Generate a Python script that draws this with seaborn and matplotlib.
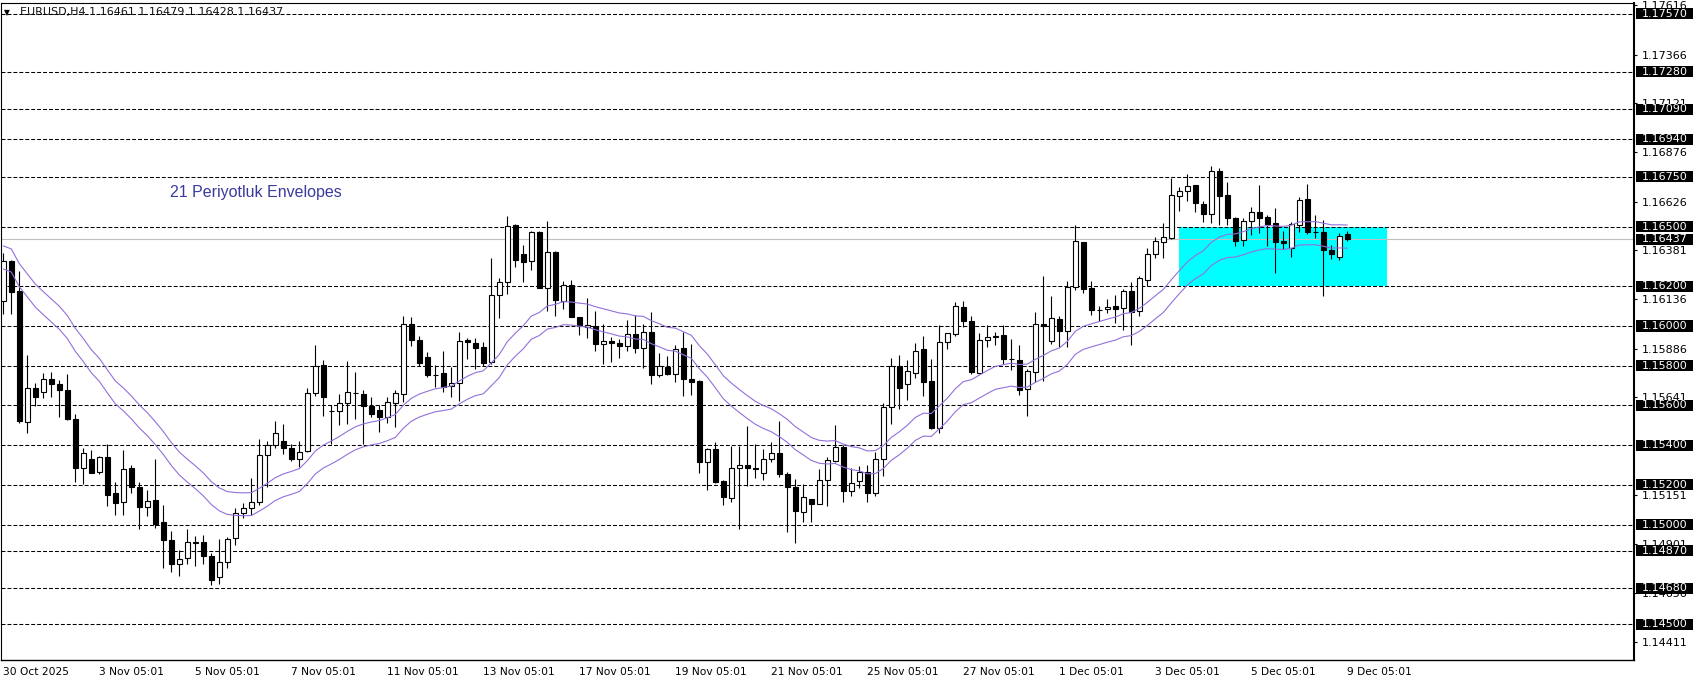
"""
EURUSD H4 candlestick chart with a 21-period envelope, horizontal
levels and a highlighted zone (MT4 style screenshot recreation).
"""

import numpy as np
import pandas as pd
import matplotlib
matplotlib.use("Agg")
import matplotlib.pyplot as plt
import matplotlib.transforms as mtransforms
from matplotlib.patches import Rectangle
import seaborn as sns


TITLE = "EURUSD,H4 1.16461 1.16479 1.16428 1.16437"
NOTE = "21 Periyotluk Envelopes"

# OHLC per H4 bar (bar 0 = 30 Oct 2025)
opens = [
    1.16128, 1.16325, 1.16175, 1.15518, 1.15688, 1.15667, 1.15733, 1.15708, 1.15678, 1.15533,
    1.15287, 1.15333, 1.15263, 1.15342, 1.15158, 1.15113, 1.15283, 1.15188, 1.15088, 1.15125,
    1.15013, 1.14925, 1.14800, 1.14833, 1.14913, 1.14913, 1.14845, 1.14737, 1.14810, 1.14932,
    1.15058, 1.15083, 1.15113, 1.15350, 1.15400, 1.15422, 1.15388, 1.15333, 1.15372, 1.15663,
    1.15803, 1.15573, 1.15570, 1.15612, 1.15662, 1.15658, 1.15595, 1.15578, 1.15542, 1.15613,
    1.15658, 1.16008, 1.15928, 1.15845, 1.15755, 1.15763, 1.15698, 1.15713, 1.15930, 1.15915,
    1.15892, 1.15818, 1.16155, 1.16220, 1.16507, 1.16360, 1.16325, 1.16472, 1.16193, 1.16372,
    1.16127, 1.16205, 1.16047, 1.15993, 1.15998, 1.15908, 1.15927, 1.15912, 1.15898, 1.15960,
    1.15888, 1.15972, 1.15753, 1.15792, 1.15758, 1.15887, 1.15735, 1.15722, 1.15318, 1.15380,
    1.15218, 1.15133, 1.15285, 1.15300, 1.15285, 1.15260, 1.15330, 1.15360, 1.15257, 1.15190,
    1.15065, 1.15127, 1.15105, 1.15225, 1.15323, 1.15390, 1.15172, 1.15220, 1.15267, 1.15160,
    1.15330, 1.15590, 1.15800, 1.15710, 1.15765, 1.15882, 1.15722, 1.15488, 1.15918, 1.15960,
    1.16097, 1.16027, 1.15763, 1.15930, 1.15947, 1.15957, 1.15833, 1.15827, 1.15683, 1.15767,
    1.16012, 1.15923, 1.16037, 1.15973, 1.16197, 1.16422, 1.16192, 1.16078, 1.16085, 1.16102,
    1.16090, 1.16175, 1.16075, 1.16230, 1.16363, 1.16423, 1.16443, 1.16655, 1.16680, 1.16707,
    1.16615, 1.16565, 1.16780, 1.16657, 1.16543, 1.16435, 1.16530, 1.16572, 1.16547, 1.16517,
    1.16427, 1.16393, 1.16510, 1.16640, 1.16475, 1.16475, 1.16382, 1.16348, 1.16461,
]
highs = [
    1.16367, 1.16330, 1.16275, 1.15855, 1.15713, 1.15763, 1.15770, 1.15730, 1.15758, 1.15558,
    1.15388, 1.15375, 1.15345, 1.15408, 1.15213, 1.15375, 1.15303, 1.15213, 1.15175, 1.15333,
    1.15098, 1.14967, 1.14875, 1.14978, 1.14942, 1.14950, 1.14860, 1.14928, 1.14940, 1.15083,
    1.15108, 1.15233, 1.15433, 1.15422, 1.15520, 1.15508, 1.15408, 1.15420, 1.15688, 1.15905,
    1.15828, 1.15600, 1.15658, 1.15825, 1.15770, 1.15680, 1.15645, 1.15600, 1.15645, 1.15680,
    1.16050, 1.16045, 1.15950, 1.15870, 1.15805, 1.15875, 1.15795, 1.15972, 1.15940, 1.15940,
    1.15922, 1.16343, 1.16240, 1.16552, 1.16513, 1.16407, 1.16477, 1.16477, 1.16527, 1.16377,
    1.16227, 1.16232, 1.16047, 1.16140, 1.16077, 1.16010, 1.15947, 1.15935, 1.16030, 1.16055,
    1.16010, 1.16072, 1.15865, 1.15847, 1.15902, 1.15968, 1.15907, 1.15727, 1.15385, 1.15415,
    1.15223, 1.15397, 1.15397, 1.15497, 1.15407, 1.15380, 1.15415, 1.15522, 1.15265, 1.15232,
    1.15205, 1.15127, 1.15282, 1.15343, 1.15502, 1.15402, 1.15285, 1.15297, 1.15302, 1.15365,
    1.15615, 1.15838, 1.15852, 1.15830, 1.15913, 1.15952, 1.15832, 1.16005, 1.15965, 1.16123,
    1.16127, 1.16048, 1.15963, 1.16007, 1.15968, 1.16007, 1.15935, 1.15902, 1.15783, 1.16072,
    1.16252, 1.16152, 1.16052, 1.16227, 1.16507, 1.16422, 1.16227, 1.16102, 1.16138, 1.16157,
    1.16188, 1.16222, 1.16252, 1.16390, 1.16447, 1.16518, 1.16743, 1.16697, 1.16765, 1.16707,
    1.16630, 1.16807, 1.16797, 1.16723, 1.16547, 1.16543, 1.16597, 1.16707, 1.16557, 1.16593,
    1.16477, 1.16522, 1.16648, 1.16713, 1.16560, 1.16535, 1.16410, 1.16468, 1.16479,
]
lows = [
    1.16058, 1.16058, 1.15512, 1.15463, 1.15597, 1.15637, 1.15642, 1.15542, 1.15525, 1.15217,
    1.15205, 1.15258, 1.15255, 1.15092, 1.15047, 1.15047, 1.15158, 1.14978, 1.15042, 1.14986,
    1.14780, 1.14760, 1.14740, 1.14800, 1.14790, 1.14800, 1.14697, 1.14700, 1.14780, 1.14900,
    1.15033, 1.15050, 1.15100, 1.15188, 1.15388, 1.15358, 1.15322, 1.15292, 1.15367, 1.15647,
    1.15547, 1.15405, 1.15503, 1.15505, 1.15530, 1.15405, 1.15542, 1.15467, 1.15512, 1.15492,
    1.15617, 1.15900, 1.15800, 1.15745, 1.15692, 1.15667, 1.15642, 1.15622, 1.15832, 1.15785,
    1.15798, 1.15810, 1.16038, 1.16160, 1.16298, 1.16223, 1.16282, 1.16193, 1.16077, 1.16052,
    1.16088, 1.16043, 1.15955, 1.15940, 1.15873, 1.15807, 1.15817, 1.15838, 1.15873, 1.15863,
    1.15788, 1.15710, 1.15743, 1.15752, 1.15718, 1.15648, 1.15652, 1.15260, 1.15173, 1.15210,
    1.15098, 1.15113, 1.14980, 1.15193, 1.15235, 1.15227, 1.15318, 1.15240, 1.14963, 1.14910,
    1.15015, 1.15013, 1.15102, 1.15093, 1.15318, 1.15115, 1.15143, 1.15185, 1.15115, 1.15147,
    1.15243, 1.15505, 1.15580, 1.15630, 1.15740, 1.15648, 1.15480, 1.15463, 1.15883, 1.15948,
    1.15993, 1.15757, 1.15760, 1.15893, 1.15902, 1.15810, 1.15777, 1.15652, 1.15548, 1.15718,
    1.15723, 1.15910, 1.15893, 1.15893, 1.16180, 1.16168, 1.16057, 1.16027, 1.16063, 1.16013,
    1.15980, 1.15905, 1.16050, 1.16202, 1.16343, 1.16343, 1.16440, 1.16580, 1.16630, 1.16573,
    1.16522, 1.16518, 1.16510, 1.16510, 1.16402, 1.16402, 1.16457, 1.16468, 1.16402, 1.16268,
    1.16385, 1.16347, 1.16473, 1.16463, 1.16443, 1.16152, 1.16335, 1.16330, 1.16428,
]
closes = [
    1.16328, 1.16172, 1.15520, 1.15688, 1.15642, 1.15733, 1.15707, 1.15678, 1.15530, 1.15287,
    1.15363, 1.15262, 1.15342, 1.15150, 1.15108, 1.15278, 1.15188, 1.15088, 1.15118, 1.15005,
    1.14921, 1.14800, 1.14830, 1.14913, 1.14908, 1.14842, 1.14722, 1.14810, 1.14928, 1.15058,
    1.15083, 1.15113, 1.15350, 1.15400, 1.15462, 1.15388, 1.15333, 1.15367, 1.15663, 1.15797,
    1.15642, 1.15570, 1.15612, 1.15668, 1.15665, 1.15598, 1.15555, 1.15542, 1.15617, 1.15663,
    1.16008, 1.15928, 1.15812, 1.15753, 1.15753, 1.15695, 1.15712, 1.15927, 1.15920, 1.15890,
    1.15813, 1.16155, 1.16220, 1.16505, 1.16333, 1.16323, 1.16472, 1.16193, 1.16370, 1.16130,
    1.16205, 1.16043, 1.16002, 1.16005, 1.15907, 1.15925, 1.15913, 1.15898, 1.15960, 1.15888,
    1.15970, 1.15753, 1.15798, 1.15760, 1.15885, 1.15733, 1.15718, 1.15318, 1.15380, 1.15213,
    1.15138, 1.15285, 1.15300, 1.15283, 1.15280, 1.15330, 1.15360, 1.15253, 1.15188, 1.15068,
    1.15140, 1.15105, 1.15225, 1.15327, 1.15390, 1.15168, 1.15210, 1.15267, 1.15160, 1.15330,
    1.15590, 1.15800, 1.15688, 1.15772, 1.15875, 1.15718, 1.15488, 1.15922, 1.15965, 1.16100,
    1.16023, 1.15767, 1.15930, 1.15947, 1.15948, 1.15832, 1.15835, 1.15677, 1.15772, 1.16010,
    1.15998, 1.16042, 1.15973, 1.16197, 1.16427, 1.16188, 1.16078, 1.16080, 1.16098, 1.16088,
    1.16175, 1.16070, 1.16240, 1.16360, 1.16427, 1.16448, 1.16657, 1.16680, 1.16702, 1.16618,
    1.16563, 1.16780, 1.16653, 1.16543, 1.16430, 1.16530, 1.16572, 1.16543, 1.16513, 1.16423,
    1.16418, 1.16512, 1.16635, 1.16472, 1.16473, 1.16383, 1.16363, 1.16455, 1.16437,
]
# closes before the visible window, only used to seed the moving average
prior_closes = [
    1.16500, 1.16680, 1.16720, 1.16620, 1.16640, 1.16600, 1.16520, 1.16480, 1.16550, 1.16580,
    1.16400, 1.16300, 1.16220, 1.16250, 1.16180, 1.16120, 1.16200, 1.16280, 1.16250, 1.16120,
]

ENV_PERIOD = 21          # exponential MA, as the envelope bends in the screenshot
ENV_DEVIATION = 0.0005   # 0.05 %

level_lines = [1.17570, 1.17280, 1.17090, 1.16940, 1.16750, 1.16500, 1.16200, 1.16000,
               1.15800, 1.15600, 1.15400, 1.15200, 1.15000, 1.14870, 1.14680, 1.14500]
current_price = 1.16437
scale_ticks = [1.17616, 1.17366, 1.17121, 1.16876, 1.16626, 1.16381, 1.16136, 1.15886,
               1.15641, 1.15151, 1.14901, 1.14656, 1.14411]

time_label_bars = [0, 12, 24, 36, 48, 60, 72, 84, 96, 108, 120, 132, 144, 156, 168]
time_labels = ["30 Oct 2025", "3 Nov 05:01", "5 Nov 05:01", "7 Nov 05:01", "11 Nov 05:01",
               "13 Nov 05:01", "17 Nov 05:01", "19 Nov 05:01", "21 Nov 05:01", "25 Nov 05:01",
               "27 Nov 05:01", "1 Dec 05:01", "3 Dec 05:01", "5 Dec 05:01", "9 Dec 05:01"]

zone_price = (1.16200, 1.16500)
zone_bars = (146.96, 172.96)

W, H = 1699, 684
AX_LEFT, AX_RIGHT, AX_TOP, AX_BOTTOM = 1, 1634, 3, 660  # pixels
PX_PER_PRICE = 19873


def main():
    sns.set_theme(style="white")
    plt.rcParams["font.family"] = ["DejaVu Sans"]

    df = pd.DataFrame({"open": opens, "high": highs, "low": lows, "close": closes})
    df["bar"] = np.arange(len(df))

    all_closes = pd.Series(prior_closes + closes)
    ma = all_closes.ewm(span=ENV_PERIOD, adjust=False).mean()
    ma = ma.iloc[len(prior_closes):].to_numpy()
    df["env_up"] = ma * (1 + ENV_DEVIATION)
    df["env_dn"] = ma * (1 - ENV_DEVIATION)

    fig = plt.figure(figsize=(W / 100, H / 100), dpi=100)
    fig.patch.set_facecolor("white")
    ax = fig.add_axes([AX_LEFT / W, 1 - AX_BOTTOM / H,
                       (AX_RIGHT - AX_LEFT) / W, (AX_BOTTOM - AX_TOP) / H])
    ax.set_facecolor("white")

    ax.set_xlim((AX_LEFT - 3.3) / 8, (AX_RIGHT - 3.3) / 8)
    ax.set_ylim(1.16 - (AX_BOTTOM - 326) / PX_PER_PRICE, 1.16 + (326 - AX_TOP) / PX_PER_PRICE)

    # highlighted zone
    ax.add_patch(Rectangle((zone_bars[0], zone_price[0]), zone_bars[1] - zone_bars[0],
                           zone_price[1] - zone_price[0], facecolor="#00FFFF",
                           edgecolor="none", zorder=1))

    # horizontal levels + price line
    for lvl in level_lines:
        ax.axhline(lvl, color="black", lw=0.75, ls=(0, (3.8, 1.9)), zorder=1.5)
    ax.axhline(current_price, color="#c0c0c0", lw=0.8, zorder=1.6)

    # candles
    ax.vlines(df["bar"], df["low"], df["high"], color="black", lw=0.8, zorder=3)
    body_lo = df[["open", "close"]].min(axis=1)
    body_h = (df["close"] - df["open"]).abs().clip(lower=0.00002)
    fill = np.where(df["close"] >= df["open"], "white", "black")
    ax.bar(df["bar"], body_h, bottom=body_lo, width=0.62, color=fill,
           edgecolor="black", linewidth=0.8, zorder=4)

    # envelope
    for col in ["env_up", "env_dn"]:
        sns.lineplot(data=df, x="bar", y=col, ax=ax, color="#9370DB", lw=0.8, zorder=5)
    ax.set_xlabel("")
    ax.set_ylabel("")

    # axes frame
    for side in ["left", "top"]:
        ax.spines[side].set_linewidth(0.8)
    ax.spines["bottom"].set_linewidth(1.0)
    ax.spines["right"].set_linewidth(1.5)
    for sp in ax.spines.values():
        sp.set_color("black")

    ax.yaxis.tick_right()
    ax.set_yticks(scale_ticks)
    ax.set_yticklabels([f"{v:.5f}" for v in scale_ticks])
    ax.tick_params(axis="y", direction="out", length=2.5, width=0.8, pad=3,
                   labelsize=8, colors="black")

    ax.set_xticks(time_label_bars)
    ax.set_xticklabels(time_labels, ha="left")
    ax.tick_params(axis="x", direction="out", length=3, width=0.8, pad=2,
                   labelsize=7.7, colors="black")
    for lab in ax.get_xticklabels():
        lab.set_horizontalalignment("left")

    # black price tags on the scale
    trans = mtransforms.blended_transform_factory(ax.transAxes, ax.transData)
    ax_w = AX_RIGHT - AX_LEFT
    for lvl in level_lines + [current_price]:
        ax.add_patch(Rectangle((1 + 2 / ax_w, lvl - 5.5 / PX_PER_PRICE), 57 / ax_w,
                               11 / PX_PER_PRICE, transform=trans, facecolor="black",
                               edgecolor="none", clip_on=False, zorder=6))
        ax.text(1 + 8 / ax_w, lvl, f"{lvl:.5f}", transform=trans, color="white",
                fontsize=8, ha="left", va="center", zorder=7, clip_on=False)

    # header and note
    fig.text(4 / W, 1 - 12.5 / H, "▼", fontsize=5.5, color="black", va="center", ha="left")
    fig.text(20 / W, 1 - 12.5 / H, TITLE, fontsize=8, color="#111111", va="center", ha="left")
    fig.text(170 / W, 1 - 192 / H, NOTE, fontsize=11.5, color="#3a3a9c",
             family=["Liberation Sans"], va="center", ha="left")

    fig.savefig("out.png", dpi=100, facecolor="white")
    plt.close(fig)


if __name__ == "__main__":
    main()
